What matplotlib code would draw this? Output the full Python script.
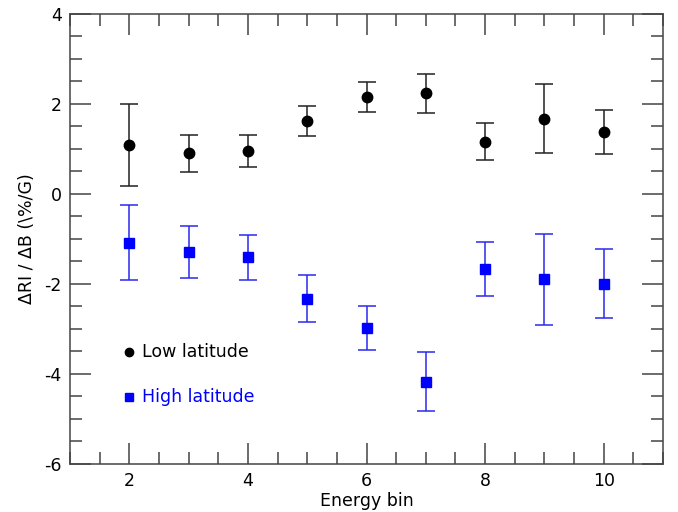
"""Energy-bin sensitivity of RI to B, low vs high latitude."""

import matplotlib

matplotlib.use("Agg")

import matplotlib.pyplot as plt
from matplotlib.ticker import MultipleLocator

energy_bin = [2, 3, 4, 5, 6, 7, 8, 9, 10]

low_val = [1.09, 0.90, 0.96, 1.62, 2.16, 2.24, 1.16, 1.67, 1.38]
low_err = [0.92, 0.42, 0.35, 0.33, 0.33, 0.43, 0.41, 0.77, 0.49]

high_val = [-1.08, -1.29, -1.41, -2.33, -2.97, -4.17, -1.66, -1.90, -1.99]
high_err = [0.84, 0.57, 0.50, 0.52, 0.49, 0.65, 0.60, 1.01, 0.77]

LOW_COLOR = "black"
HIGH_COLOR = "#0000ff"
FRAME = "#444444"

plt.rcParams["font.family"] = ["DejaVu Sans"]
plt.rcParams["axes.unicode_minus"] = False

fig = plt.figure(figsize=(6.78, 5.12), dpi=100)
ax = fig.add_axes([70 / 678, 1 - 464 / 512, 593 / 678, 450 / 512])

ax.errorbar(energy_bin, low_val, yerr=low_err, fmt="o", color=LOW_COLOR,
            ecolor="#222222", ms=7.5, capsize=6.5, elinewidth=1.1, capthick=1.1)
ax.errorbar(energy_bin, high_val, yerr=high_err, fmt="s", color=HIGH_COLOR,
            ecolor="#2a2af0", ms=7, capsize=6.5, elinewidth=1.1, capthick=1.1)

# in-axes legend
ax.plot([2], [-3.52], "o", color=LOW_COLOR, ms=6)
ax.text(2.22, -3.52, "Low latitude", color=LOW_COLOR, fontsize=12.5, va="center")
ax.plot([2], [-4.52], "s", color=HIGH_COLOR, ms=6)
ax.text(2.22, -4.52, "High latitude", color=HIGH_COLOR, fontsize=12.5, va="center")

ax.set_xlim(1, 11)
ax.set_ylim(-6, 4)
ax.xaxis.set_major_locator(MultipleLocator(2))
ax.xaxis.set_minor_locator(MultipleLocator(0.5))
ax.yaxis.set_major_locator(MultipleLocator(2))
ax.yaxis.set_minor_locator(MultipleLocator(0.5))
ax.tick_params(which="both", direction="in", top=True, right=True,
               color=FRAME, width=1.1, labelsize=12.5, pad=6)
ax.tick_params(which="major", length=15)
ax.tick_params(which="minor", length=8.5)
for sp in ax.spines.values():
    sp.set_color(FRAME)
    sp.set_linewidth(1.1)

ax.set_xlabel("Energy bin", fontsize=12.5, labelpad=1)
ax.set_ylabel("ΔRI / ΔB (\\%/G)", fontsize=12.5, labelpad=6)

fig.savefig("out.png", dpi=100)
